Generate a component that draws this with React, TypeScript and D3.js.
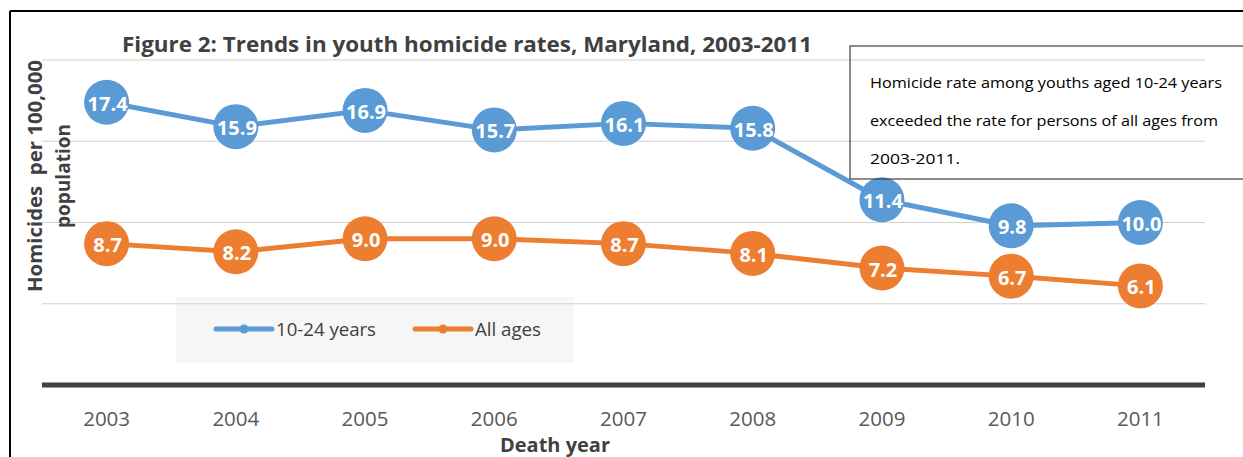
import React from "react";
import * as d3 from "d3";

const years = ["2003", "2004", "2005", "2006", "2007", "2008", "2009", "2010", "2011"];
const youth = [17.4, 15.9, 16.9, 15.7, 16.1, 15.8, 11.4, 9.8, 10.0];
const allAges = [8.7, 8.2, 9.0, 9.0, 8.7, 8.1, 7.2, 6.7, 6.1];
const gridTicks = [5, 10, 15, 20];
const seriesNames = ["10-24 years", "All ages"];
const colors = ["#5B9BD5", "#ED7D31"];
const title = "Figure 2: Trends in youth homicide rates, Maryland, 2003-2011";
const noteLines = [
  "Homicide rate among youths aged 10-24 years",
  "exceeded the rate for persons of all ages from",
  "2003-2011.",
];

const W = 1243;
const H = 457;
const FONT = "'Open Sans', 'Noto Sans', sans-serif";

export default function App() {
  const x = d3.scalePoint<string>().domain(years).range([42, 1205]).padding(0.5);
  const y = d3.scaleLinear().domain([0, 20]).range([385, 60]);
  const line = d3
    .line<number>()
    .x((_, i) => x(years[i]) as number)
    .y((d) => y(d));
  const series = [youth, allAges];
  const noteW = [352, 348, 90];

  return (
    <svg
      width={W}
      height={H}
      style={{ position: "absolute", left: 0, top: 0, background: "#fff" }}
      fontFamily={FONT}
    >
      {/* outer border */}
      <line x1={10} y1={11} x2={W} y2={11} stroke="#000" strokeWidth={2} />
      <line x1={10} y1={11} x2={10} y2={H} stroke="#000" strokeWidth={2} />

      {/* legend background */}
      <rect x={176} y={297} width={398} height={66} fill="#f6f6f6" />

      {/* gridlines */}
      {gridTicks.map((t) => (
        <line key={t} x1={42} x2={1205} y1={y(t)} y2={y(t)} stroke="#d0d0d0" strokeWidth={1.2} />
      ))}
      {/* x axis */}
      <line x1={42} x2={1205} y1={y(0)} y2={y(0)} stroke="#404040" strokeWidth={5} />

      {/* title */}
      <text x={467} y={52} textAnchor="middle" fontSize={21} fontWeight={700} fill="#404040" textLength={690} lengthAdjust="spacingAndGlyphs">
        {title}
      </text>

      {/* y-axis label */}
      <g transform="translate(42,176) rotate(-90)">
        <text x={0} y={0} textAnchor="middle" fontSize={19.5} fontWeight={700} fill="#404040" textLength={232} lengthAdjust="spacingAndGlyphs" xmlSpace="preserve">
          Homicides  per 100,000
        </text>
      </g>
      <g transform="translate(70,176) rotate(-90)">
        <text x={0} y={0} textAnchor="middle" fontSize={19.5} fontWeight={700} fill="#404040" textLength={104} lengthAdjust="spacingAndGlyphs">
          population
        </text>
      </g>

      {/* x tick labels */}
      {years.map((yr) => (
        <text key={yr} x={x(yr)} y={426} textAnchor="middle" fontSize={20.5} fill="#595959">
          {yr}
        </text>
      ))}
      <text x={555} y={452} textAnchor="middle" fontSize={19} fontWeight={700} fill="#404040" textLength={110} lengthAdjust="spacingAndGlyphs">
        Death year
      </text>

      {/* series */}
      {series.map((s, si) => (
        <g key={si}>
          <path d={line(s) || ""} fill="none" stroke={colors[si]} strokeWidth={5} strokeLinejoin="round" />
          {s.map((v, i) => (
            <circle key={i} cx={x(years[i])} cy={y(v)} r={22.5} fill={colors[si]} />
          ))}
          {s.map((v, i) => (
            <text
              key={"t" + i}
              x={(x(years[i]) as number) + 1}
              y={y(v) + 1}
              textAnchor="middle"
              dominantBaseline="central"
              fontSize={20}
              fontWeight={700}
              fill="#fff"
            >
              {v.toFixed(1)}
            </text>
          ))}
        </g>
      ))}

      {/* legend */}
      {seriesNames.map((name, i) => {
        const lx = 216 + i * 199;
        return (
          <g key={name}>
            <line x1={lx} x2={lx + 56} y1={329} y2={329} stroke={colors[i]} strokeWidth={5} strokeLinecap="round" />
            <circle cx={lx + 28} cy={329} r={4.5} fill={colors[i]} />
            <text x={lx + 60} y={336} fontSize={18} fill="#404040" textLength={i === 0 ? 100 : 66} lengthAdjust="spacingAndGlyphs">
              {name}
            </text>
          </g>
        );
      })}

      {/* note box */}
      <rect x={850} y={46} width={460} height={133} fill="none" stroke="#404040" strokeWidth={1.2} />
      {noteLines.map((l, i) => (
        <text key={i} x={870} y={88 + i * 38} fontSize={15} fill="#000" textLength={noteW[i]} lengthAdjust="spacingAndGlyphs">
          {l}
        </text>
      ))}
    </svg>
  );
}
